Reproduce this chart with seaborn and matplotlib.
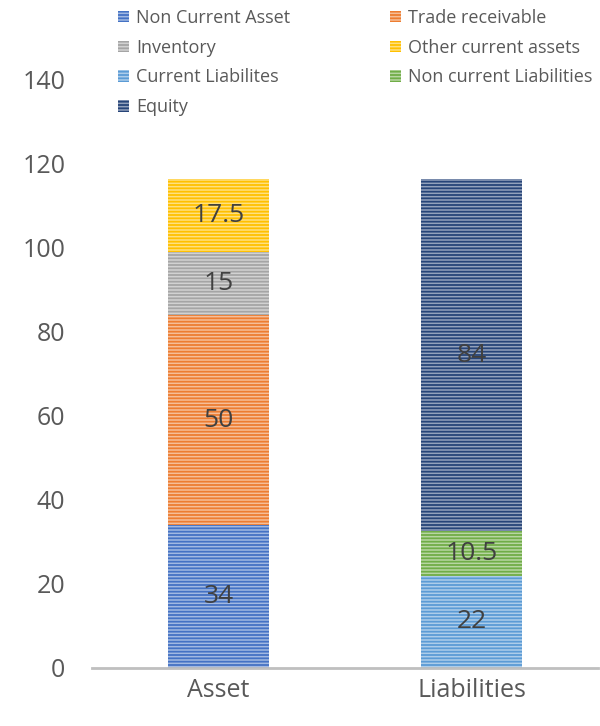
import matplotlib.pyplot as plt
import matplotlib.colors as mcolors
from matplotlib.patches import Patch
import seaborn as sns
import pandas as pd
import numpy as np

# data
categories = ["Asset", "Liabilities"]
asset_labels = ["Non Current Asset", "Trade receivable", "Inventory", "Other current assets"]
asset_values = [34, 50, 15, 17.5]
liab_labels = ["Current Liabilites", "Non current Liabilities", "Equity"]
liab_values = [22, 10.5, 84]

colors = {
    "Non Current Asset": "#4472C4",
    "Trade receivable": "#ED7D31",
    "Inventory": "#A5A5A5",
    "Other current assets": "#FFC000",
    "Current Liabilites": "#5B9BD5",
    "Non current Liabilities": "#70AD47",
    "Equity": "#264478",
}


def tint(c, amount=0.5):
    rgb = np.array(mcolors.to_rgb(c))
    return tuple(rgb + (1 - rgb) * amount)


sns.set_style("white")
plt.rcParams['font.family'] = ['Open Sans', 'DejaVu Sans']
plt.rcParams['hatch.linewidth'] = 1.3

fig = plt.figure(figsize=(6, 7.26), dpi=100)
ax = fig.add_axes([0.153, 0.0799, 0.844, 0.81])

# build segments with bottoms
rows = []
for cat, labels, values in [("Asset", asset_labels, asset_values),
                            ("Liabilities", liab_labels, liab_values)]:
    bottom = 0
    for lab, val in zip(labels, values):
        rows.append({"category": cat, "series": lab, "value": val,
                     "bottom": bottom, "top": bottom + val})
        bottom += val
df = pd.DataFrame(rows)

# draw cumulative bars from the top segment down so each overlays the one above
for _, r in df.sort_values("top", ascending=False).iterrows():
    sns.barplot(x=[r["category"]], y=[r["top"]], order=categories,
                color=colors[r["series"]], width=0.4, ax=ax)
    p = ax.patches[-1]
    p.set_facecolor(tint(colors[r["series"]]))
    p.set_edgecolor(colors[r["series"]])
    p.set_linewidth(0)
    p.set_hatch("-----")
    ax.text(categories.index(r["category"]), r["bottom"] + r["value"] / 2,
            f"{r['value']:g}", ha="center", va="center",
            fontsize=19, color="#404040")

ax.set_ylim(0, 140)
ax.set_yticks(range(0, 141, 20))
ax.set_xlim(-0.5, 1.5)
ax.set_xlabel("")
ax.set_ylabel("")
ax.tick_params(axis="both", labelsize=18, colors="#595959", length=0)
ax.tick_params(axis="y", pad=19)
ax.tick_params(axis="x", pad=7)
for s in ["top", "right", "left"]:
    ax.spines[s].set_visible(False)
ax.spines["bottom"].set_color("#BFBFBF")
ax.spines["bottom"].set_linewidth(2)

# legend (column-major order to give row-wise reading)
legend_order = ["Non Current Asset", "Inventory", "Current Liabilites", "Equity",
                "Trade receivable", "Other current assets", "Non current Liabilities"]
handles = [Patch(facecolor=tint(colors[k]), edgecolor=colors[k], linewidth=0,
                 hatch="-----", label=k) for k in legend_order]
fig.legend(handles=handles, ncol=2, loc="upper left", bbox_to_anchor=(0.17, 1.01),
           frameon=False, fontsize=13, labelcolor="#595959",
           handlelength=0.6, handleheight=0.6, handletextpad=0.4,
           columnspacing=5.5, labelspacing=0.65)

plt.savefig("out.png", dpi=100)
plt.close()
